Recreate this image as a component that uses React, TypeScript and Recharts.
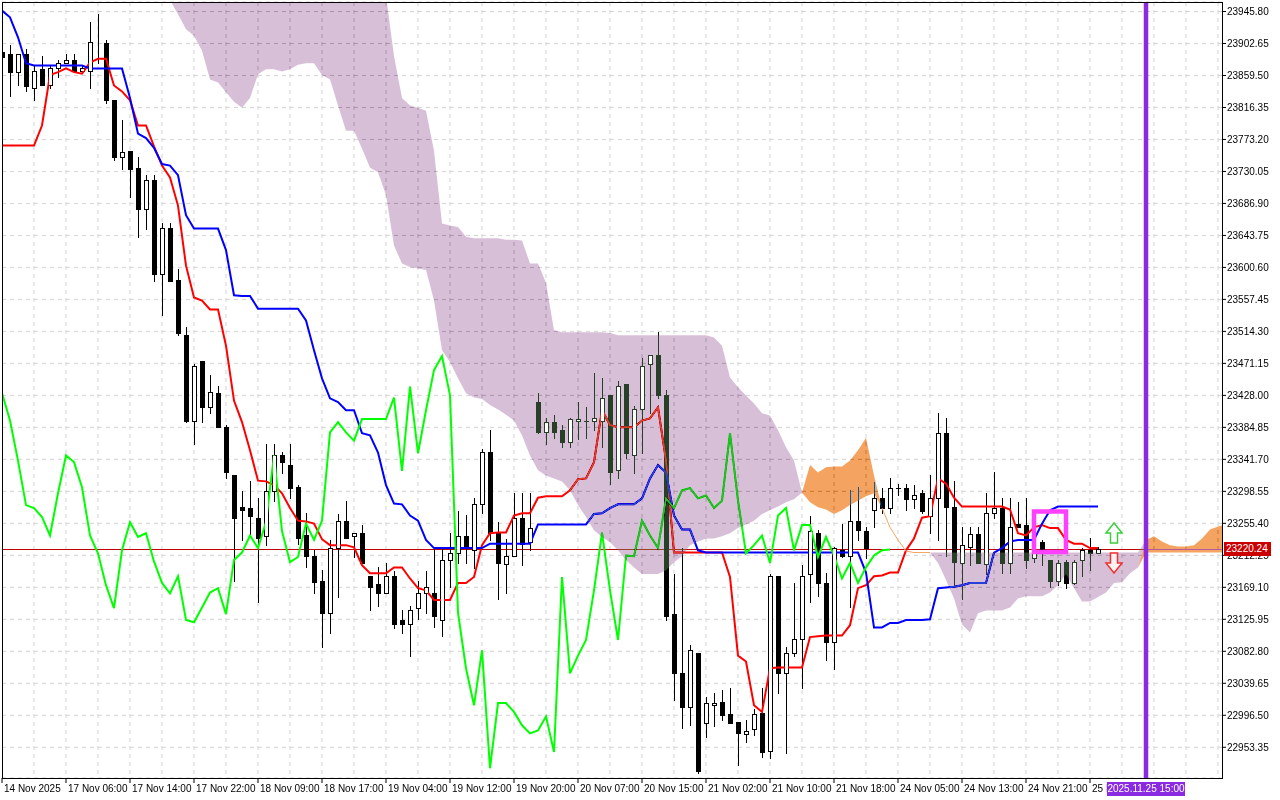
import React from "react";
import {
  ComposedChart,
  XAxis,
  YAxis,
  CartesianGrid,
  Bar,
  Line,
  Area,
  ReferenceLine,
  ReferenceArea,
  ReferenceDot,
} from "recharts";

// hourly candles, bar 0 = left edge of the chart
const open = [
  23891, 23888, 23864, 23889, 23843, 23868, 23846, 23869, 23876, 23881,
  23865, 23865, 23904, 23903, 23826, 23750, 23757, 23735, 23680, 23718,
  23592, 23654, 23583, 23509, 23393, 23475, 23412, 23431, 23386, 23321,
  23278, 23276, 23262, 23238, 23299, 23347, 23334, 23305, 23239, 23211,
  23177, 23135, 23222, 23259, 23238, 23243, 23184, 23174, 23161, 23184,
  23125, 23120, 23141, 23161, 23161, 23125, 23206, 23216, 23238, 23219,
  23281, 23352, 23242, 23200, 23212, 23263, 23230, 23419, 23379, 23392,
  23381, 23365, 23394, 23394, 23393, 23394, 23429, 23327, 23443, 23348,
  23410, 23470, 23482, 23429, 23133, 23053, 23007, 23081, 22986, 23010,
  23014, 22998, 22987, 22971, 22978, 22999, 22948, 23185, 23053, 23081,
  23099, 23187, 23243, 23175, 23095, 23220, 23212, 23259, 23245, 23273,
  23289, 23276, 23303, 23303, 23288, 23296, 23265, 23289, 23377, 23278,
  23202, 23224, 23241, 23200, 23269, 23276, 23202, 23254, 23253, 23208,
  23230, 23206, 23178, 23203, 23175, 23206, 23219, 23216,
];
const high = [
  23896, 23900, 23889, 23895, 23873, 23886, 23873, 23881, 23889, 23888,
  23873, 23931, 23942, 23908, 23827, 23799, 23757, 23749, 23725, 23725,
  23660, 23660, 23599, 23520, 23470, 23475, 23455, 23441, 23388, 23321,
  23299, 23312, 23290, 23363, 23362, 23352, 23363, 23307, 23269, 23220,
  23193, 23233, 23268, 23286, 23243, 23253, 23184, 23197, 23202, 23191,
  23138, 23144, 23178, 23191, 23222, 23222, 23242, 23272, 23266, 23290,
  23355, 23381, 23257, 23234, 23296, 23296, 23296, 23431, 23398, 23401,
  23388, 23398, 23419, 23412, 23458, 23452, 23429, 23447, 23443, 23414,
  23479, 23483, 23514, 23435, 23187, 23222, 23091, 23081, 23021, 23026,
  23030, 23033, 22987, 22990, 23005, 23033, 23187, 23185, 23088, 23175,
  23199, 23265, 23246, 23189, 23224, 23255, 23300, 23305, 23250, 23311,
  23303, 23317, 23309, 23309, 23307, 23300, 23320, 23404, 23397, 23313,
  23250, 23250, 23250, 23296, 23324, 23290, 23289, 23284, 23289, 23222,
  23233, 23206, 23206, 23206, 23206, 23222, 23235, 23223,
];
const low = [
  23880, 23832, 23846, 23838, 23827, 23847, 23842, 23857, 23876, 23865,
  23864, 23843, 23876, 23822, 23745, 23734, 23695, 23641, 23652, 23582,
  23536, 23582, 23509, 23392, 23363, 23392, 23404, 23385, 23316, 23178,
  23233, 23239, 23149, 23226, 23286, 23323, 23289, 23228, 23196, 23162,
  23088, 23107, 23156, 23235, 23210, 23202, 23138, 23144, 23161, 23114,
  23107, 23077, 23127, 23135, 23115, 23103, 23170, 23202, 23202, 23195,
  23269, 23233, 23154, 23162, 23212, 23199, 23219, 23377, 23363, 23370,
  23358, 23358, 23369, 23370, 23381, 23358, 23309, 23317, 23344, 23323,
  23350, 23404, 23425, 23125, 23017, 22980, 22983, 22918, 22967, 22982,
  22990, 22986, 22930, 22960, 22970, 22940, 22939, 23026, 22945, 23076,
  23033, 23149, 23158, 23071, 23059, 23210, 23142, 23233, 23208, 23250,
  23269, 23269, 23293, 23273, 23276, 23269, 23242, 23233, 23212, 23172,
  23154, 23199, 23202, 23187, 23263, 23189, 23189, 23250, 23195, 23203,
  23199, 23169, 23172, 23168, 23173, 23185, 23192, 23216,
];
const close = [
  23885, 23864, 23889, 23845, 23866, 23847, 23869, 23876, 23881, 23865,
  23869, 23904, 23905, 23826, 23750, 23756, 23734, 23680, 23718, 23592,
  23654, 23582, 23512, 23394, 23467, 23412, 23432, 23385, 23324, 23262,
  23274, 23265, 23236, 23299, 23347, 23338, 23303, 23236, 23211, 23176,
  23135, 23222, 23258, 23235, 23243, 23202, 23170, 23161, 23185, 23120,
  23120, 23139, 23162, 23169, 23130, 23206, 23216, 23238, 23222, 23282,
  23352, 23243, 23202, 23211, 23263, 23228, 23249, 23378, 23392, 23379,
  23365, 23396, 23396, 23394, 23397, 23425, 23324, 23441, 23350, 23410,
  23468, 23482, 23428, 23131, 23053, 23007, 23084, 22922, 23013, 23013,
  22997, 22986, 22972, 22975, 22998, 22947, 23184, 23053, 23081, 23099,
  23185, 23245, 23175, 23095, 23222, 23211, 23259, 23246, 23222, 23289,
  23276, 23303, 23303, 23288, 23293, 23272, 23289, 23377, 23278, 23203,
  23226, 23241, 23202, 23269, 23276, 23202, 23251, 23251, 23206, 23216,
  23219, 23178, 23202, 23175, 23203, 23219, 23216, 23220.24,
];

// Ichimoku lines
const tenkan = [
  23765, 23765, 23765, 23765, 23765, 23792, 23860, 23864, 23869, 23864,
  23862, 23877, 23882, 23882, 23846, 23838, 23826, 23792, 23792, 23764,
  23738, 23722, 23684, 23603, 23560, 23556, 23544, 23544, 23495, 23421,
  23392, 23354, 23313, 23312, 23307, 23296, 23276, 23259, 23258, 23255,
  23234, 23226, 23226, 23226, 23223, 23199, 23188, 23188, 23188, 23196,
  23196, 23181, 23168, 23165, 23152, 23152, 23152, 23175, 23175, 23183,
  23226, 23242, 23243, 23243, 23266, 23269, 23269, 23290, 23292, 23292,
  23292, 23300, 23315, 23316, 23338, 23408, 23388, 23385, 23385, 23385,
  23394, 23397, 23412, 23340, 23216, 23216, 23216, 23216, 23216, 23216,
  23216, 23183, 23077, 23069, 23010, 23001, 23060, 23061, 23061, 23061,
  23061, 23102, 23103, 23104, 23104, 23104, 23118, 23168, 23172, 23184,
  23185, 23189, 23189, 23219, 23235, 23263, 23265, 23316, 23309, 23290,
  23278, 23278, 23278, 23278, 23278, 23278, 23274, 23242, 23239, 23250,
  23253, 23249, 23249, 23233, 23228, 23228, 23222, 23222,
];
const kijun = [
  23947, 23938, 23911, 23876, 23873, 23873, 23873, 23873, 23873, 23873,
  23873, 23869, 23869, 23869, 23869, 23869, 23829, 23781, 23775, 23762,
  23740, 23738, 23725, 23671, 23653, 23653, 23653, 23653, 23624, 23563,
  23562, 23562, 23545, 23545, 23545, 23545, 23545, 23545, 23529, 23489,
  23451, 23424, 23419, 23408, 23408, 23377, 23374, 23351, 23307, 23282,
  23281, 23266, 23259, 23233, 23222, 23222, 23222, 23222, 23222, 23222,
  23222, 23228, 23228, 23228, 23228, 23228, 23228, 23254, 23254, 23254,
  23254, 23254, 23254, 23254, 23268, 23269, 23276, 23281, 23281, 23281,
  23289, 23316, 23334, 23324, 23266, 23247, 23247, 23219, 23216, 23216,
  23216, 23216, 23216, 23216, 23216, 23216, 23216, 23216, 23216, 23216,
  23216, 23216, 23216, 23216, 23216, 23216, 23216, 23216, 23189, 23115,
  23115, 23121, 23121, 23125, 23125, 23125, 23126, 23168, 23169, 23170,
  23172, 23175, 23175, 23175, 23216, 23222, 23231, 23233, 23233, 23233,
  23255, 23273, 23278, 23278, 23278, 23278, 23278, 23278,
];
const chikou = [
  23431, 23394, 23340, 23280, 23276, 23264, 23239, 23296, 23347, 23338,
  23304, 23239, 23215, 23172, 23141, 23219, 23257, 23237, 23242, 23204,
  23175, 23161, 23184, 23125, 23122, 23142, 23162, 23168, 23133, 23206,
  23216, 23239, 23222, 23257, 23347, 23245, 23203, 23210, 23255, 23233,
  23259, 23378, 23392, 23378, 23367, 23396, 23396, 23396, 23396, 23425,
  23326, 23440, 23350, 23408, 23462, 23481, 23428, 23135, 23060, 23010,
  23084, 22925, 23013, 23013, 23001, 22983, 22972, 22976, 22995, 22947,
  23183, 23053, 23077, 23098, 23165, 23243, 23165, 23098, 23212, 23211,
  23259, 23239, 23222, 23289, 23276, 23300, 23303, 23289, 23293, 23276,
  23286, 23377, 23286, 23215, 23226, 23239, 23202, 23266, 23276, 23219,
  23253, 23253, 23210, 23237, 23212, 23181, 23202, 23175, 23196, 23212,
  23219, 23220,
];

// cloud spans, first value sits on bar CLOUD_START
const CLOUD_START = 21;
const spanA = [
  23961, 23942, 23922, 23913, 23893, 23854, 23850, 23837, 23824,
  23816, 23829, 23861, 23868, 23868, 23865, 23868, 23874, 23876, 23876,
  23860, 23854, 23819, 23785, 23785, 23761, 23735, 23729, 23698, 23630,
  23606, 23601, 23599, 23597, 23556, 23489, 23473, 23451, 23431, 23425,
  23423, 23415, 23409, 23402, 23394, 23374, 23347, 23327, 23320, 23316,
  23312, 23300, 23280, 23264, 23246, 23237, 23230, 23219, 23206, 23196,
  23187, 23187, 23187, 23192, 23203, 23211, 23226, 23231, 23235, 23235,
  23238, 23242, 23249, 23254, 23259, 23268, 23273, 23278, 23284, 23288,
  23297, 23334, 23324, 23331, 23332, 23332, 23340, 23354, 23371, 23320,
  23276, 23250, 23233, 23218, 23216, 23216, 23216, 23202, 23179, 23154,
  23119, 23108, 23134, 23138, 23138, 23138, 23142, 23154, 23157, 23157,
  23157, 23162, 23172, 23187, 23168, 23150, 23150, 23156, 23162, 23175,
  23176, 23188, 23196, 23233, 23238, 23231, 23226, 23224, 23224, 23226,
  23235, 23247, 23251, 23254,
];
const spanB = [
  24020, 24020, 24020, 24020, 24020, 24020, 24020, 24020, 24020,
  24020, 24020, 24020, 24020, 24020, 24020, 24020, 24020, 24020, 24020,
  24020, 24020, 24020, 24020, 24020, 24020, 24020, 24020, 23967, 23886,
  23829, 23819, 23816, 23812, 23758, 23660, 23657, 23655, 23642, 23640,
  23640, 23640, 23640, 23638, 23638, 23637, 23606, 23606, 23580, 23516,
  23513, 23513, 23513, 23513, 23513, 23513, 23512, 23509, 23509, 23509,
  23509, 23509, 23509, 23509, 23509, 23509, 23509, 23509, 23509, 23506,
  23495, 23452, 23439, 23428, 23417, 23404, 23401, 23381, 23358, 23340,
  23297, 23284, 23277, 23274, 23268, 23273, 23280, 23286, 23292, 23296,
  23276, 23250, 23233, 23218, 23216, 23216, 23216, 23216, 23216, 23216,
  23216, 23216, 23216, 23216, 23216, 23216, 23216, 23216, 23216, 23216,
  23216, 23216, 23216, 23216, 23216, 23216, 23216, 23216, 23216, 23216,
  23216, 23216, 23216, 23216, 23216, 23216, 23216, 23216, 23216, 23216,
  23216, 23216, 23216, 23216,
];

const timeLabels = [
  "14 Nov 2025", "17 Nov 06:00", "17 Nov 14:00", "17 Nov 22:00",
  "18 Nov 09:00", "18 Nov 17:00", "19 Nov 04:00", "19 Nov 12:00",
  "19 Nov 20:00", "20 Nov 07:00", "20 Nov 15:00", "21 Nov 02:00",
  "21 Nov 10:00", "21 Nov 18:00", "24 Nov 05:00", "24 Nov 13:00",
  "24 Nov 21:00", "25 Nov 05:00",
];
const LABEL_STEP = 8;
const priceTicks = [
  22953.35, 22996.5, 23039.65, 23082.8, 23125.95, 23169.1, 23212.25,
  23255.4, 23298.55, 23341.7, 23384.85, 23428.0, 23471.15, 23514.3,
  23557.45, 23600.6, 23643.75, 23686.9, 23730.05, 23773.2, 23816.35,
  23859.5, 23902.65, 23945.8,
];
const LAST_PRICE = 23220.24;
const NOW_BAR = 143;
const NOW_LABEL = "2025.11.25 15:00";

const BAR_COUNT = 154;
const X_MAX = 152.5;
const Y_DOMAIN = [22911.9, 23958.6];
const FONT = "'Liberation Sans', Arial, sans-serif";
const PLOT = { left: 2, top: 2, width: 1220, height: 776 };

const rows = Array.from({ length: BAR_COUNT }, (_, i) => {
  const a = spanA[i - CLOUD_START];
  const b = spanB[i - CLOUD_START];
  const cloud = a != null && b != null;
  return {
    i,
    o: open[i] ?? null,
    h: high[i] ?? null,
    l: low[i] ?? null,
    c: close[i] ?? null,
    tenkan: tenkan[i] ?? null,
    kijun: kijun[i] ?? null,
    chikou: chikou[i] ?? null,
    bearCloud: cloud ? (b >= a ? [a, b] : [a, a]) : null,
    bullCloud: cloud ? (a > b ? [b, a] : [a, a]) : null,
    thinEdge: cloud && Math.abs(a - b) < 1 ? a : null,
  };
});

const gridBars = Array.from({ length: 38 }, (_, j) => (j + 1) * 4);
const labelBars = timeLabels.map((_, j) => j * LABEL_STEP);

// same mapping as the chart axes, used for the html tags outside the plot
const xPix = (bar: number) => PLOT.left + (bar / X_MAX) * PLOT.width;
const yPix = (p: number) =>
  PLOT.top + ((Y_DOMAIN[1] - p) / (Y_DOMAIN[1] - Y_DOMAIN[0])) * PLOT.height;

function candleGeom(props: any) {
  const { x, y, width, height, payload } = props;
  if (!payload || payload.o == null || x == null) return null;
  const { o, h, l, c } = payload;
  const top = Math.min(y, y + height);
  const bot = Math.max(y, y + height);
  const py = (v: number) => (h === l ? top : top + ((h - v) / (h - l)) * (bot - top));
  const col = Math.round(x + width / 2);
  const yO = Math.round(py(o));
  const yC = Math.round(py(c));
  return {
    col,
    yH: Math.round(py(h)),
    yL: Math.round(py(l)),
    bt: Math.min(yO, yC),
    bb: Math.max(yO, yC),
    bull: c > o,
    bear: c < o,
  };
}

const Candle = (props: any) => {
  const g = candleGeom(props);
  if (!g) return null;
  const { col, yH, yL, bt, bb, bull, bear } = g;
  return (
    <g shapeRendering="crispEdges">
      <rect x={col} y={yH} width={1} height={yL - yH + 1} fill="#000" />
      {bear && <rect x={col - 2} y={bt} width={5} height={bb - bt + 1} fill="#000" />}
      {bull && (
        <rect x={col - 1.5} y={bt + 0.5} width={4} height={bb - bt} fill="#fff" stroke="#000" strokeWidth={1} />
      )}
      {!bull && !bear && <rect x={col - 2} y={bt} width={5} height={1} fill="#000" />}
    </g>
  );
};

// white bodies of up candles stay white on top of the cloud
const BullFill = (props: any) => {
  const g = candleGeom(props);
  if (!g || !g.bull || g.bb - g.bt < 2) return null;
  return (
    <rect x={g.col - 1} y={g.bt + 1} width={3} height={g.bb - g.bt - 1} fill="#fff" shapeRendering="crispEdges" />
  );
};

const TimeTick = ({ x, y, payload }: any) => (
  <text x={x + 2} y={y} dy="0.71em" fontSize={10} fontFamily={FONT} fill="#000" textAnchor="start">
    {timeLabels[Math.round(payload.value / LABEL_STEP)]}
  </text>
);

const UpArrow = ({ cx, cy }: any) => (
  <path
    d={`M${cx},${cy - 10} L${cx + 8},${cy} L${cx + 3.5},${cy} L${cx + 3.5},${cy + 10} L${cx - 3.5},${cy + 10} L${cx - 3.5},${cy} L${cx - 8},${cy} Z`}
    fill="#fff"
    stroke="#3ccf3c"
    strokeWidth={1.5}
  />
);

const DownArrow = ({ cx, cy }: any) => (
  <path
    d={`M${cx},${cy + 10} L${cx + 8},${cy} L${cx + 3.5},${cy} L${cx + 3.5},${cy - 10} L${cx - 3.5},${cy - 10} L${cx - 3.5},${cy} L${cx - 8},${cy} Z`}
    fill="#fff3f3"
    stroke="#f03030"
    strokeWidth={1.5}
  />
);

const tagStyle: React.CSSProperties = {
  position: "absolute",
  height: 14,
  lineHeight: "14px",
  fontSize: 10,
  fontFamily: FONT,
  color: "#fff",
  whiteSpace: "nowrap",
  pointerEvents: "none",
};

export default function App() {
  const priceY = Math.round(yPix(LAST_PRICE));
  const nowX = xPix(NOW_BAR);
  return (
    <div style={{ position: "absolute", left: 0, top: 0, width: 1280, height: 800, background: "#fff" }}>
      <style>{`.kumo { mix-blend-mode: difference; }`}</style>
      <ComposedChart
        width={1280}
        height={800}
        data={rows}
        margin={{ top: 2, right: 0, bottom: 0, left: 2 }}
        style={{ fontFamily: FONT }}
      >
        <CartesianGrid
          fill="#fff"
          stroke="#d3d3d3"
          strokeDasharray="4 4"
          verticalCoordinatesGenerator={({ xAxis, offset }: any) =>
            gridBars.map((b) =>
              xAxis && typeof xAxis.scale === "function"
                ? xAxis.scale(b)
                : offset.left + (b / X_MAX) * offset.width
            )
          }
        />
        <XAxis
          dataKey="i"
          type="number"
          domain={[0, X_MAX]}
          allowDataOverflow
          ticks={labelBars}
          interval={0}
          height={22}
          tickSize={5}
          tickMargin={2}
          axisLine={false}
          tickLine={{ stroke: "#000" }}
          tick={<TimeTick />}
        />
        <XAxis xAxisId="fill" dataKey="i" type="number" domain={[0, X_MAX]} allowDataOverflow hide />
        <YAxis
          orientation="right"
          type="number"
          domain={Y_DOMAIN}
          allowDataOverflow
          ticks={priceTicks}
          interval={0}
          width={58}
          tickSize={4}
          tickMargin={1}
          axisLine={false}
          tickLine={{ stroke: "#000" }}
          tick={{ fontSize: 10, fill: "#000", fontFamily: FONT }}
          tickFormatter={(v: number) => v.toFixed(2)}
        />

        <ReferenceLine y={LAST_PRICE} stroke="#c00000" strokeWidth={1} shapeRendering="crispEdges" zIndex={250} />

        <Bar
          dataKey={(r: any) => (r.o == null ? null : [r.l, r.h])}
          barSize={5}
          shape={<Candle />}
          isAnimationActive={false}
          zIndex={300}
        />

        <Line dataKey="tenkan" stroke="#ff0000" strokeWidth={2} dot={false} activeDot={false} isAnimationActive={false} zIndex={400} />
        <Line dataKey="kijun" stroke="#0000ff" strokeWidth={2} dot={false} activeDot={false} isAnimationActive={false} zIndex={401} />
        <Line dataKey="chikou" stroke="#00ff00" strokeWidth={2} dot={false} activeDot={false} isAnimationActive={false} zIndex={402} />
        <Line dataKey="thinEdge" stroke="#f4a460" strokeWidth={1} dot={false} activeDot={false} isAnimationActive={false} zIndex={403} />

        <Area
          className="kumo"
          dataKey="bearCloud"
          type="linear"
          stroke="none"
          fill="#274027"
          fillOpacity={1}
          isAnimationActive={false}
          activeDot={false}
          zIndex={500}
        />
        <Area
          className="kumo"
          dataKey="bullCloud"
          type="linear"
          stroke="none"
          fill="#0b5b9f"
          fillOpacity={1}
          isAnimationActive={false}
          activeDot={false}
          zIndex={500}
        />

        <Bar
          xAxisId="fill"
          dataKey={(r: any) => (r.o == null ? null : [r.l, r.h])}
          barSize={5}
          shape={<BullFill />}
          isAnimationActive={false}
          zIndex={600}
        />

        <ReferenceArea
          x1={129}
          x2={133}
          y1={23216.7}
          y2={23271.4}
          fill="none"
          fillOpacity={0}
          stroke="#ff40ff"
          strokeWidth={4.5}
          zIndex={700}
        />
        <ReferenceLine x={NOW_BAR} stroke="#8a2be2" strokeWidth={4.5} zIndex={700} />
        <ReferenceDot x={139} y={23242.4} r={0} shape={<UpArrow />} zIndex={700} />
        <ReferenceDot x={139} y={23201.9} r={0} shape={<DownArrow />} zIndex={700} />
      </ComposedChart>
      <div
        style={{
          position: "absolute",
          left: 2,
          top: 2,
          width: 1221,
          height: 777,
          boxSizing: "border-box",
          border: "1px solid #000",
          pointerEvents: "none",
        }}
      />
      <div style={{ ...tagStyle, left: 1224, top: priceY - 7, width: 45, paddingLeft: 2, background: "#cc0000" }}>
        {LAST_PRICE.toFixed(2)}
      </div>
      <div
        style={{
          ...tagStyle,
          left: nowX - 39,
          top: PLOT.top + PLOT.height + 4,
          width: 78,
          textAlign: "center",
          background: "#8a2be2",
        }}
      >
        {NOW_LABEL}
      </div>
    </div>
  );
}
